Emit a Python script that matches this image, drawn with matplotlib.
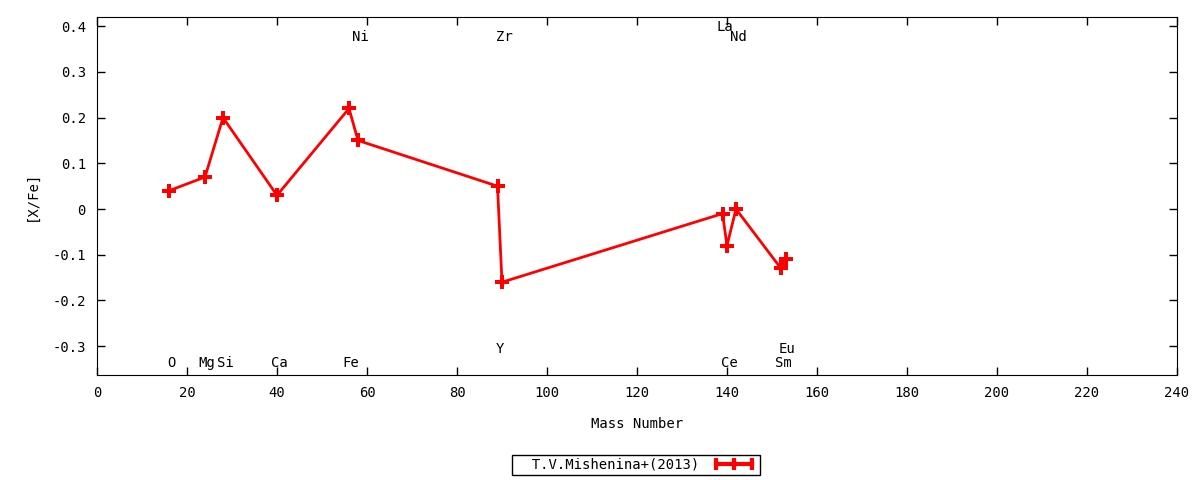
import numpy as np
import matplotlib
matplotlib.use('Agg')
import matplotlib.pyplot as plt
from matplotlib.lines import Line2D

plt.rcParams['font.family'] = ['DejaVu Sans Mono']
plt.rcParams['font.size'] = 10
plt.rcParams['axes.unicode_minus'] = False

# abundances, T.V.Mishenina+(2013)
mass = [16, 24, 28, 40, 56, 58, 89, 90, 139, 140, 142, 152, 153]
xfe = [0.04, 0.07, 0.20, 0.03, 0.22, 0.15, 0.05, -0.16, -0.01, -0.08, 0.0, -0.13, -0.11]

# element labels: name, mass, label height
elements = ['O', 'Mg', 'Si', 'Ca', 'Fe', 'Ni', 'Y', 'Zr', 'La', 'Ce', 'Nd', 'Sm', 'Eu']
label_mass = [16, 24, 28, 40, 56, 58, 89, 90, 139, 140, 142, 152, 153]
label_y = [-0.337, -0.337, -0.337, -0.337, -0.337, 0.376, -0.306, 0.376,
           0.398, -0.337, 0.376, -0.337, -0.306]

fig = plt.figure(figsize=(12, 4.8), dpi=100)
ax = fig.add_axes([97/1200, 1 - 375/480, (1177 - 97)/1200, (375 - 17)/480])

ax.plot(mass, xfe, color='red', lw=2, marker='P', markersize=10,
        markeredgewidth=0)

for name, m, y in zip(elements, label_mass, label_y):
    ax.annotate(name, (m, y), xytext=(2, 0), textcoords='offset pixels',
                ha='center', va='center')

ax.set_xlim(0, 240)
ax.set_ylim(-0.363, 0.42)
ax.set_xticks(np.arange(0, 241, 20))
ax.set_yticks([-0.3, -0.2, -0.1, 0, 0.1, 0.2, 0.3, 0.4])
ax.set_yticklabels(['-0.3', '-0.2', '-0.1', '0', '0.1', '0.2', '0.3', '0.4'])
ax.tick_params(direction='in', top=True, right=True, length=6, width=1, pad=8)
ax.set_xlabel('Mass Number', labelpad=12)
ax.set_ylabel('[X/Fe]', labelpad=10)

handle = Line2D([], [], color='red', lw=3, marker='|', markersize=8,
                markeredgewidth=3)
leg = fig.legend([handle], ['T.V.Mishenina+(2013)'], loc='center',
                 bbox_to_anchor=(636/1200, 1 - 465/480), numpoints=3,
                 markerfirst=False, fancybox=False, framealpha=1,
                 edgecolor='black', handlelength=3.2, borderpad=0.25,
                 borderaxespad=0, handletextpad=0.9)
leg.get_frame().set_linewidth(1)
leg.get_texts()[0].set_text('  T.V.Mishenina+(2013)')

fig.savefig('out.png', dpi=100)
